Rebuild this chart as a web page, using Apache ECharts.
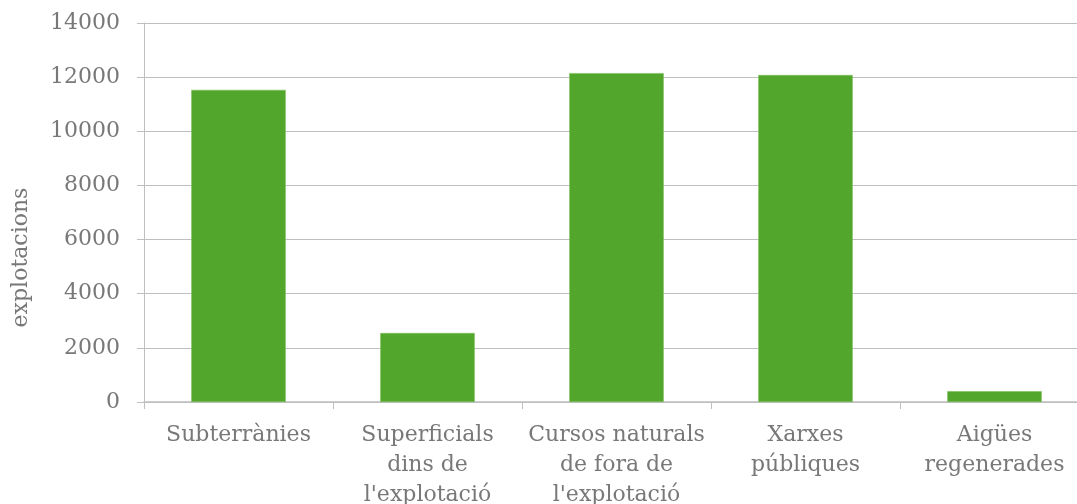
<!DOCTYPE html>
<html>
<head>
<meta charset="utf-8">
<script src="https://cdn.jsdelivr.net/npm/echarts@6/dist/echarts.min.js"></script>
<style>
  html, body { margin: 0; padding: 0; background: #ffffff; }
  #chart { width: 1077px; height: 504px; }
</style>
</head>
<body>
<div id="chart"></div>
<script>
// Water sources used by farms (number of holdings)
const categories = [
  'Subterrànies',
  'Superficials\ndins de\nl\'explotació',
  'Cursos naturals\nde fora de\nl\'explotació',
  'Xarxes\npúbliques',
  'Aigües\nregenerades'
];
const explotacions = [11530, 2550, 12150, 12080, 400];
const axisName = 'explotacions';

const FONT = 'DejaVu Serif';
const GREY_TEXT = '#787878';
const GREY_LINE = '#bfbfbf';

const chart = echarts.init(document.getElementById('chart'), null, { renderer: 'canvas' });
chart.setOption({
  animation: false,
  backgroundColor: '#ffffff',
  grid: {
    left: 144, top: 23, width: 945, height: 379,
    containLabel: false, outerBoundsMode: 'none'
  },
  xAxis: {
    type: 'category',
    data: categories,
    axisLine: { lineStyle: { color: GREY_LINE, width: 1.5 } },
    axisTick: { show: true, length: 7, lineStyle: { color: GREY_LINE } },
    axisLabel: {
      color: GREY_TEXT, fontFamily: FONT, fontSize: 22, lineHeight: 30,
      margin: 18, interval: 0, align: 'center'
    }
  },
  yAxis: {
    type: 'value',
    min: 0, max: 14000, interval: 2000,
    name: axisName,
    nameLocation: 'middle',
    nameGap: 112,
    nameTextStyle: { color: GREY_TEXT, fontFamily: FONT, fontSize: 22, padding: [0, 90, 0, 0] },
    axisLine: { show: true, lineStyle: { color: GREY_LINE } },
    axisTick: { show: true, length: 7, lineStyle: { color: GREY_LINE } },
    axisLabel: {
      color: GREY_TEXT, fontFamily: FONT, fontSize: 22, margin: 24,
      formatter: (v) => String(v)
    },
    splitLine: { show: true, lineStyle: { color: GREY_LINE, width: 1 } }
  },
  series: [{
    type: 'bar',
    data: explotacions,
    barWidth: '50%',
    itemStyle: { color: '#53a62c', borderColor: '#7cc05a', borderWidth: 0.6 }
  }]
});
</script>
</body>
</html>
